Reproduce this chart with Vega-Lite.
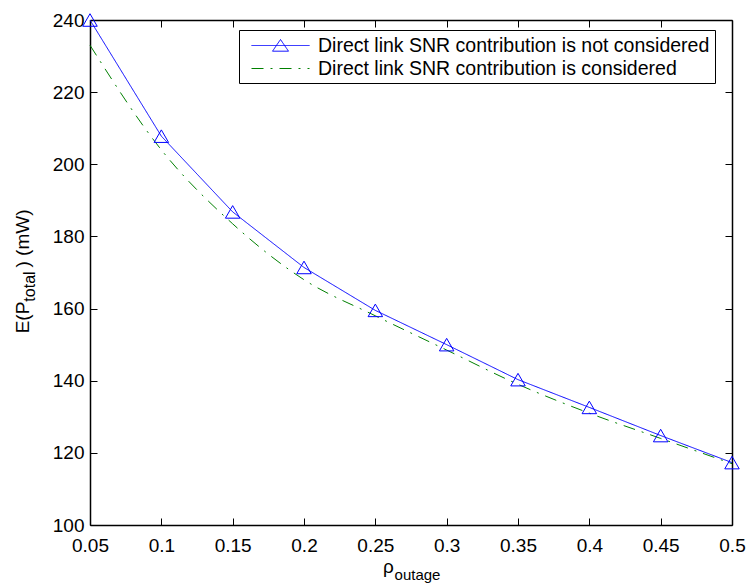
{
  "$schema": "https://vega.github.io/schema/vega-lite/v6.json",
  "width": 642,
  "height": 505,
  "autosize": {"type": "none"},
  "padding": {"left": 90, "top": 20, "right": 16, "bottom": 62},
  "background": "white",
  "config": {
    "view": {"stroke": null},
    "font": "Liberation Sans",
    "axis": {
      "grid": false,
      "labelFont": "Liberation Sans",
      "labelFontSize": 19,
      "labelColor": "#000000",
      "titleFont": "Liberation Sans",
      "titleFontSize": 19,
      "titleFontWeight": "normal",
      "titleColor": "#000000",
      "domainColor": "#000000",
      "domainWidth": 1.5,
      "tickColor": "#000000",
      "tickWidth": 1,
      "labelFlush": false,
      "labelOverlap": false,
      "labelBound": false
    }
  },
  "datasets": {
    "curves": [
      {"p": 0.05, "E": 240.0, "series": "Direct link SNR contribution is not considered"},
      {"p": 0.10, "E": 207.8, "series": "Direct link SNR contribution is not considered"},
      {"p": 0.15, "E": 186.8, "series": "Direct link SNR contribution is not considered"},
      {"p": 0.20, "E": 171.4, "series": "Direct link SNR contribution is not considered"},
      {"p": 0.25, "E": 159.5, "series": "Direct link SNR contribution is not considered"},
      {"p": 0.30, "E": 150.0, "series": "Direct link SNR contribution is not considered"},
      {"p": 0.35, "E": 140.3, "series": "Direct link SNR contribution is not considered"},
      {"p": 0.40, "E": 132.6, "series": "Direct link SNR contribution is not considered"},
      {"p": 0.45, "E": 124.8, "series": "Direct link SNR contribution is not considered"},
      {"p": 0.50, "E": 117.3, "series": "Direct link SNR contribution is not considered"},
      {"p": 0.05, "E": 233.0, "series": "Direct link SNR contribution is considered"},
      {"p": 0.10, "E": 204.0, "series": "Direct link SNR contribution is considered"},
      {"p": 0.15, "E": 183.5, "series": "Direct link SNR contribution is considered"},
      {"p": 0.20, "E": 168.0, "series": "Direct link SNR contribution is considered"},
      {"p": 0.25, "E": 158.0, "series": "Direct link SNR contribution is considered"},
      {"p": 0.30, "E": 148.5, "series": "Direct link SNR contribution is considered"},
      {"p": 0.35, "E": 139.0, "series": "Direct link SNR contribution is considered"},
      {"p": 0.40, "E": 131.0, "series": "Direct link SNR contribution is considered"},
      {"p": 0.45, "E": 124.0, "series": "Direct link SNR contribution is considered"},
      {"p": 0.50, "E": 117.0, "series": "Direct link SNR contribution is considered"}
    ]
  },
  "data": {"name": "curves"},
  "resolve": {"axis": {"x": "independent", "y": "independent"}},
  "layer": [
    {
      "transform": [{"filter": "datum.series === 'Direct link SNR contribution is not considered'"}],
      "mark": {"type": "line", "strokeWidth": 1, "interpolate": "linear"},
      "encoding": {
        "x": {
          "field": "p", "type": "quantitative",
          "scale": {"domain": [0.05, 0.5], "nice": false, "zero": false},
          "axis": {
            "orient": "bottom",
            "values": [0.05, 0.1, 0.15, 0.2, 0.25, 0.3, 0.35, 0.4, 0.45, 0.5],
            "format": "~g",
            "tickSize": -7,
            "labelPadding": 18,
            "title": "ρ",
            "titleX": 298, "titleY": 47,
            "titleAlign": "center", "titleBaseline": "alphabetic", "titleAngle": 0
          }
        },
        "y": {
          "field": "E", "type": "quantitative",
          "scale": {"domain": [100, 240], "nice": false, "zero": false},
          "axis": {
            "orient": "left",
            "values": [100, 120, 140, 160, 180, 200, 220, 240],
            "tickSize": -7,
            "labelPadding": 13,
            "title": "E(P",
            "titleX": -62, "titleY": 297,
            "titleAngle": -90, "titleAlign": "center", "titleBaseline": "alphabetic"
          }
        },
        "color": {
          "field": "series", "type": "nominal",
          "scale": {"domain": ["Direct link SNR contribution is not considered", "Direct link SNR contribution is considered"], "range": ["#0000ff", "#008000"]},
          "legend": {
            "title": null, "orient": "none", "legendX": 149, "legendY": 10,
            "strokeColor": "#000000", "fillColor": "#ffffff", "padding": 5,
            "labelFont": "Liberation Sans", "labelFontSize": 19.5, "labelColor": "#000000", "labelLimit": 600,
            "symbolSize": 400, "symbolStrokeWidth": 1, "labelOffset": 53, "rowPadding": 3,
            "encode": {"symbols": {"update": {"shape": {"signal": "datum.value === 'Direct link SNR contribution is not considered' ? 'M-0.3,0H5.5M1.8,0.57L2.6,-0.6L3.4,0.57Z' : 'M-0.3,0H5.5'"}}}}
          }
        },
        "strokeDash": {
          "field": "series", "type": "nominal",
          "scale": {"domain": ["Direct link SNR contribution is not considered", "Direct link SNR contribution is considered"], "range": [[1, 0], [12, 7, 2, 7]]},
          "legend": {
            "title": null, "orient": "none", "legendX": 149, "legendY": 10,
            "strokeColor": "#000000", "fillColor": "#ffffff", "padding": 5,
            "labelFont": "Liberation Sans", "labelFontSize": 19.5, "labelColor": "#000000", "labelLimit": 600,
            "symbolSize": 400, "symbolStrokeWidth": 1, "labelOffset": 53, "rowPadding": 3,
            "encode": {"symbols": {"update": {"shape": {"signal": "datum.value === 'Direct link SNR contribution is not considered' ? 'M-0.3,0H5.5M1.8,0.57L2.6,-0.6L3.4,0.57Z' : 'M-0.3,0H5.5'"}}}}
          }
        }
      }
    },
    {
      "transform": [{"filter": "datum.series === 'Direct link SNR contribution is considered'"}],
      "mark": {"type": "line", "strokeWidth": 1, "interpolate": "monotone"},
      "encoding": {
        "x": {"field": "p", "type": "quantitative", "axis": null},
        "y": {"field": "E", "type": "quantitative", "axis": null},
        "color": {"field": "series", "type": "nominal"},
        "strokeDash": {"field": "series", "type": "nominal"}
      }
    },
    {
      "transform": [{"filter": "datum.series === 'Direct link SNR contribution is not considered'"}],
      "mark": {"type": "point", "shape": "triangle-up", "filled": false, "stroke": "#0000ff", "strokeWidth": 1, "size": 210, "opacity": 1},
      "encoding": {
        "x": {
          "field": "p", "type": "quantitative",
          "axis": {"orient": "top", "values": [0.05, 0.1, 0.15, 0.2, 0.25, 0.3, 0.35, 0.4, 0.45, 0.5], "labels": false, "tickSize": -7, "title": null}
        },
        "y": {
          "field": "E", "type": "quantitative",
          "axis": {"orient": "right", "values": [100, 120, 140, 160, 180, 200, 220, 240], "labels": false, "tickSize": -7, "title": null}
        }
      }
    },
    {
      "transform": [{"filter": "datum.series === 'Direct link SNR contribution is not considered'"}],
      "mark": {"type": "point", "opacity": 0, "size": 0},
      "encoding": {
        "x": {
          "field": "p", "type": "quantitative",
          "axis": {"orient": "bottom", "domain": false, "ticks": false, "labels": false, "title": "outage", "titleFontSize": 15, "titleX": 327, "titleY": 54, "titleAlign": "center", "titleBaseline": "alphabetic", "titleAngle": 0}
        },
        "y": {
          "field": "E", "type": "quantitative",
          "axis": {"orient": "left", "domain": false, "ticks": false, "labels": false, "title": "total", "titleFontSize": 16, "titleX": -56, "titleY": 266, "titleAngle": -90, "titleAlign": "center", "titleBaseline": "alphabetic"}
        }
      }
    },
    {
      "transform": [{"filter": "datum.series === 'Direct link SNR contribution is not considered'"}],
      "mark": {"type": "point", "opacity": 0, "size": 0},
      "encoding": {
        "x": {"field": "p", "type": "quantitative", "axis": null},
        "y": {
          "field": "E", "type": "quantitative",
          "axis": {"orient": "left", "domain": false, "ticks": false, "labels": false, "title": ") (mW)", "titleX": -62, "titleY": 218, "titleAngle": -90, "titleAlign": "center", "titleBaseline": "alphabetic"}
        }
      }
    }
  ]
}
